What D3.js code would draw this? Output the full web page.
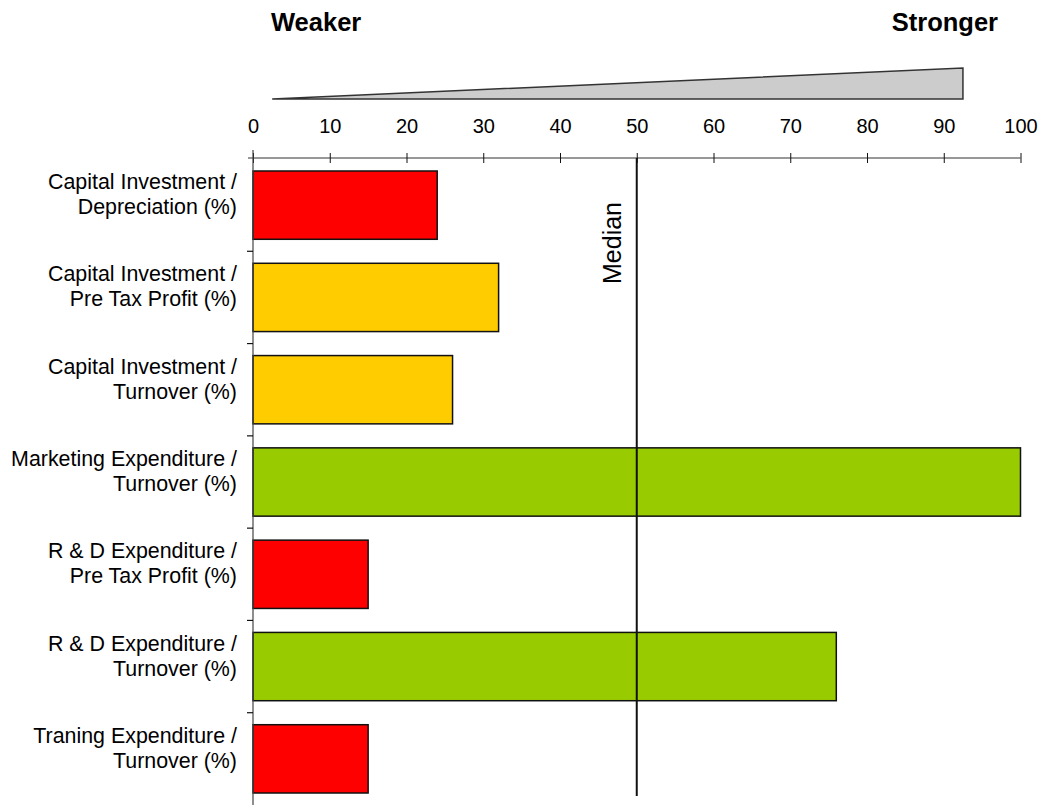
<!DOCTYPE html>
<html>
<head>
<meta charset="utf-8">
<script src="https://cdn.jsdelivr.net/npm/d3@7"></script>
<style>
  html, body { margin: 0; padding: 0; background: #fff; }
  svg { display: block; font-family: "Liberation Sans", Arial, sans-serif; }
</style>
</head>
<body>
<svg id="chart" width="1045" height="805"></svg>
<script>
const categories = [
  ["Capital Investment /", "Depreciation (%)"],
  ["Capital Investment /", "Pre Tax Profit (%)"],
  ["Capital Investment /", "Turnover (%)"],
  ["Marketing Expenditure /", "Turnover (%)"],
  ["R & D Expenditure /", "Pre Tax Profit (%)"],
  ["R & D Expenditure /", "Turnover (%)"],
  ["Traning Expenditure /", "Turnover (%)"]
];
const values = [24, 32, 26, 100, 15, 76, 15];
const ratings = ["weak", "mid", "mid", "strong", "weak", "strong", "weak"];
const ratingColors = { weak: "#FF0000", mid: "#FFCC00", strong: "#99CC00" };
const xTicks = [0, 10, 20, 30, 40, 50, 60, 70, 80, 90, 100];
const medianValue = 50;
const wedge = [[2.5, 0], [92.5, 1], [92.5, 0]]; // [x value, relative height]
const headerLabels = ["Weaker", "Stronger"];

const svg = d3.select("#chart");
const x = d3.scaleLinear().domain([0, 100]).range([253, 1020.5]);
const y = d3.scaleBand().domain(d3.range(categories.length)).range([159, 805]).paddingInner(0.26).paddingOuter(0.13);
const color = d3.scaleOrdinal().domain(Object.keys(ratingColors)).range(Object.values(ratingColors));

// Header labels
svg.append("text").attr("x", 271).attr("y", 31).attr("font-size", 25.5).attr("font-weight", "bold").text(headerLabels[0]);
svg.append("text").attr("x", 998).attr("y", 31).attr("font-size", 25.5).attr("font-weight", "bold").attr("text-anchor", "end").text(headerLabels[1]);

// Wedge
const hScale = d3.scaleLinear().domain([0, 1]).range([99, 68]);
svg.append("path")
  .attr("d", d3.line().x(d => x(d[0])).y(d => hScale(d[1])).curve(d3.curveLinearClosed)(wedge))
  .attr("fill", "#cccccc").attr("stroke", "#333").attr("stroke-width", 1.5).attr("stroke-linejoin", "miter");

// Bars
svg.append("g").selectAll("rect").data(values).join("rect")
  .attr("x", x(0))
  .attr("y", (d, i) => y(i))
  .attr("width", d => x(d) - x(0))
  .attr("height", y.bandwidth())
  .attr("fill", (d, i) => color(ratings[i]))
  .attr("stroke", "#111").attr("stroke-width", 1.5);

// X axis (top) - ticks cross the line
const xAxisG = svg.append("g").attr("transform", "translate(0,158)")
  .call(d3.axisTop(x).tickValues(xTicks).tickSize(5).tickSizeOuter(0).tickFormat(d3.format("d")));
xAxisG.select(".domain").attr("stroke", "#333").attr("stroke-width", 1.2);
xAxisG.selectAll(".tick line").attr("y1", 5).attr("y2", -5).attr("stroke", "#111");
xAxisG.selectAll(".tick text").attr("y", -25).attr("dy", 0).attr("font-size", 20).attr("font-family", "Liberation Sans, Arial, sans-serif").attr("fill", "#000");
xAxisG.select(".domain").attr("d", `M${x(0) - 5},0H${x(100)}`);

// Y axis (left) with boundary ticks
const yAxisG = svg.append("g");
yAxisG.append("line").attr("x1", x(0)).attr("x2", x(0)).attr("y1", 150).attr("y2", 805).attr("stroke", "#444").attr("stroke-width", 1.2);
const boundaries = d3.range(categories.length).map(i => y(i) - y.step() * y.paddingInner() / 2);
yAxisG.selectAll("line.b").data(boundaries.slice(1)).join("line").attr("class", "b")
  .attr("x1", x(0) - 6).attr("x2", x(0)).attr("y1", d => d).attr("y2", d => d)
  .attr("stroke", "#111").attr("stroke-width", 1.2);

// Category labels
const labelG = svg.append("g");
categories.forEach((lines, i) => {
  const c = y(i) + y.bandwidth() / 2;
  const t = labelG.append("text").attr("text-anchor", "end").attr("font-size", 21.4).attr("fill", "#000");
  t.append("tspan").attr("x", 237).attr("y", c - 16).text(lines[0]);
  t.append("tspan").attr("x", 237).attr("y", c + 9).text(lines[1]);
});

// Median line
svg.append("line").attr("x1", x(medianValue)).attr("x2", x(medianValue))
  .attr("y1", 158).attr("y2", 796).attr("stroke", "#111").attr("stroke-width", 2);
svg.append("text")
  .attr("transform", `translate(${x(medianValue) - 16},202) rotate(-90)`)
  .attr("text-anchor", "end").attr("font-size", 25).attr("fill", "#000").text("Median");
</script>
</body>
</html>
